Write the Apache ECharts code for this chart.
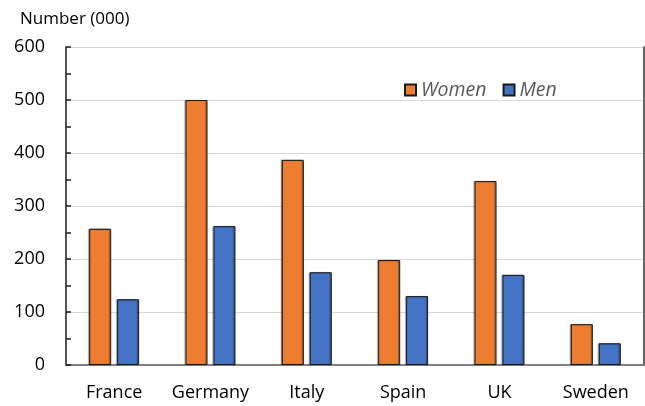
<!DOCTYPE html>
<html>
<head>
<meta charset="utf-8">
<script src="https://cdn.jsdelivr.net/npm/echarts@6/dist/echarts.min.js"></script>
<style>
  html, body { margin: 0; padding: 0; background: #fff; }
  #chart { width: 645px; height: 406px; }
</style>
</head>
<body>
<div id="chart"></div>
<script>
// Employment by country, thousands
const countries = ['France', 'Germany', 'Italy', 'Spain', 'UK', 'Sweden'];
const women = [257, 500, 387, 198, 347, 77];
const men = [124, 262, 175, 130, 170, 41];
const yTicks = { min: 0, max: 600, step: 100 };

const FONT = '"Open Sans"';
const chart = echarts.init(document.getElementById('chart'), null, { renderer: 'canvas' });

const barStyle = (color) => ({
  color: color,
  borderColor: '#1a1a1a',
  borderWidth: 1,
  shadowColor: 'rgba(0,0,0,0.45)',
  shadowBlur: 1,
  shadowOffsetX: -1,
  shadowOffsetY: 0
});

chart.setOption({
  animation: false,
  backgroundColor: '#fff',
  title: {
    text: 'Number (000)',
    left: 15,
    top: 6,
    textStyle: { fontFamily: FONT, fontSize: 17, fontWeight: 'normal', color: '#000' }
  },
  legend: {
    data: ['Women', 'Men'],
    left: 399,
    top: 75,
    itemWidth: 11,
    itemHeight: 11,
    itemGap: 16,
    icon: 'rect',
    textStyle: { fontFamily: FONT, fontSize: 19.5, fontStyle: 'italic', color: '#595959' }
  },
  grid: { left: 66, right: 1, top: 47, bottom: 41, containLabel: false },
  xAxis: [
    {
      type: 'category',
      data: countries,
      axisLine: { lineStyle: { color: '#404040', width: 2 } },
      axisTick: { show: false },
      axisLabel: { fontFamily: FONT, fontSize: 18, color: '#000', margin: 19, interval: 0 }
    },
    {
      type: 'category',
      position: 'top',
      data: countries,
      axisLine: { lineStyle: { color: '#7f7f7f', width: 2 } },
      axisTick: { show: false },
      axisLabel: { show: false }
    }
  ],
  yAxis: [
    {
      type: 'value',
      min: yTicks.min,
      max: yTicks.max,
      interval: yTicks.step,
      axisLine: { show: true, lineStyle: { color: '#1a1a1a', width: 1.5 } },
      axisTick: { show: true, inside: true, length: 5, lineStyle: { color: '#1a1a1a', width: 1.5 } },
      minorTick: { show: true, splitNumber: 2, length: 5, lineStyle: { color: '#1a1a1a', width: 1.5 } },
      splitLine: { show: true, lineStyle: { color: '#d9d9d9', width: 1 } },
      axisLabel: { fontFamily: FONT, fontSize: 18, color: '#000', margin: 21 }
    },
    {
      type: 'value',
      position: 'right',
      min: yTicks.min,
      max: yTicks.max,
      interval: yTicks.step,
      axisLine: { show: true, lineStyle: { color: '#333', width: 1.5 } },
      axisTick: { show: false },
      axisLabel: { show: false },
      splitLine: { show: false }
    }
  ],
  series: [
    {
      name: 'Women',
      type: 'bar',
      data: women,
      barWidth: 22,
      barGap: '27%',
      itemStyle: barStyle('#ED7D31')
    },
    {
      name: 'Men',
      type: 'bar',
      data: men,
      barWidth: 22,
      barGap: '27%',
      itemStyle: barStyle('#4472C4')
    }
  ]
});
</script>
</body>
</html>
